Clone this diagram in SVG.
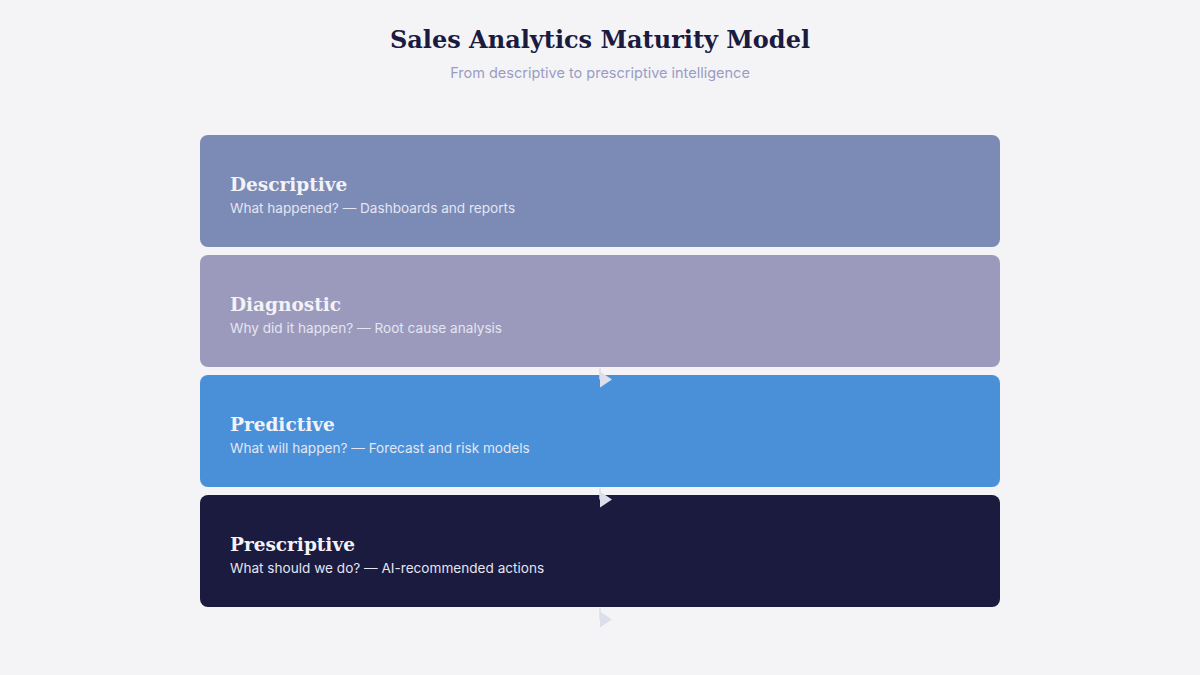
<svg xmlns="http://www.w3.org/2000/svg" width="1200" height="675" viewBox="0 0 1200 675">
<style>
.title{font-family:"DejaVu Serif","Liberation Serif",serif;font-weight:bold;font-size:24px;fill:#1b1a3f}
.sub{font-family:Inter,"Liberation Sans",sans-serif;font-size:14.5px;fill:#9a9cc4}
.lbl{font-family:"DejaVu Serif","Liberation Serif",serif;font-weight:bold;font-size:18.5px;fill:#f2f2f7}
.desc{font-family:Inter,"Liberation Sans",sans-serif;font-size:13.6px;fill:#e4e5f1}
.conn{stroke:#dcdeec;stroke-width:1.5;fill:none}
</style>
<defs>
<marker id="arr" markerWidth="12" markerHeight="16" refX="0" refY="8" orient="0" markerUnits="userSpaceOnUse">
<path d="M0,0 L12,8 L0,16 Z" fill="#dcdeec"/>
</marker>
</defs>
<rect width="1200" height="675" fill="#f4f4f7"/>
<text class="title" x="600" y="48" text-anchor="middle">Sales Analytics Maturity Model</text>
<text class="sub" x="600" y="78" text-anchor="middle">From descriptive to prescriptive intelligence</text>
<g id="descriptive">
<rect x="200" y="135" width="800" height="112" rx="8" fill="#7b8bb6"/>
<text class="lbl" x="230" y="191">Descriptive</text>
<text class="desc" x="230" y="213">What happened? — Dashboards and reports</text>
</g>
<g id="diagnostic">
<rect x="200" y="255" width="800" height="112" rx="8" fill="#9b9abc"/>
<text class="lbl" x="230" y="311">Diagnostic</text>
<text class="desc" x="230" y="333">Why did it happen? — Root cause analysis</text>
</g>
<g id="predictive">
<rect x="200" y="375" width="800" height="112" rx="8" fill="#4a90d9"/>
<text class="lbl" x="230" y="431">Predictive</text>
<text class="desc" x="230" y="453">What will happen? — Forecast and risk models</text>
</g>
<g id="prescriptive">
<rect x="200" y="495" width="800" height="112" rx="8" fill="#1b1a3f"/>
<text class="lbl" x="230" y="551">Prescriptive</text>
<text class="desc" x="230" y="573">What should we do? — AI-recommended actions</text>
</g>
<g id="connectors">
<line class="conn" x1="600" y1="368" x2="600" y2="379.5" marker-end="url(#arr)"/>
<line class="conn" x1="600" y1="488" x2="600" y2="499.5" marker-end="url(#arr)"/>
<line class="conn" x1="600" y1="608" x2="600" y2="619.5" marker-end="url(#arr)"/>
</g>
</svg>
